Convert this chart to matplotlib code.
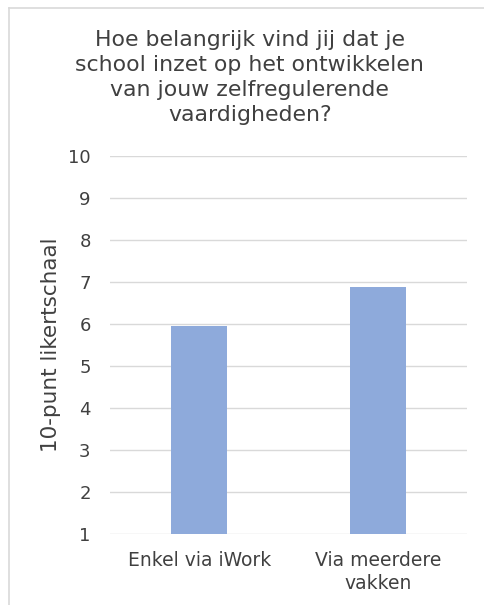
import matplotlib
matplotlib.use('Agg')
import matplotlib.pyplot as plt
from matplotlib.lines import Line2D

# data
categories = ['Enkel via iWork', 'Via meerdere\nvakken']
scores = [5.95, 6.88]
y_ticks = list(range(1, 11))
title = 'Hoe belangrijk vind jij dat je\nschool inzet op het ontwikkelen\nvan jouw zelfregulerende\nvaardigheden?'
y_label = '10-punt likertschaal'

txt = '#404040'

fig = plt.figure(figsize=(4.85, 6.05), dpi=100)
ax = fig.add_axes([0.227, 0.1174, 0.736, 0.6248])

ax.bar(range(len(categories)), scores, width=0.315, bottom=0,
       color='#8eaadb', zorder=3)
ax.set_xlim(-0.5, len(categories) - 0.5)
ax.set_ylim(1, 10)
ax.set_yticks(y_ticks)
ax.set_xticks(range(len(categories)))
ax.set_xticklabels(categories, fontsize=13.5, color=txt, linespacing=1.3)
ax.tick_params(axis='y', length=0, pad=14, labelsize=13, labelcolor=txt)
ax.tick_params(axis='x', length=0, pad=12)
ax.yaxis.grid(True, color='#d9d9d9', linewidth=1, zorder=0)
for s in ax.spines.values():
    s.set_visible(False)
ax.set_ylabel(y_label, fontsize=15.5, color=txt, labelpad=5)

fig.text(0.515, 0.95, title, ha='center', va='top', fontsize=15.8,
         color=txt, linespacing=1.3)

# chart border (left and top edges visible)
fig.add_artist(Line2D([0.019, 0.019], [0, 0.987], color='#d9d9d9', lw=1.2))
fig.add_artist(Line2D([0.019, 1], [0.987, 0.987], color='#d9d9d9', lw=1.2))

fig.savefig('out.png', dpi=100)
